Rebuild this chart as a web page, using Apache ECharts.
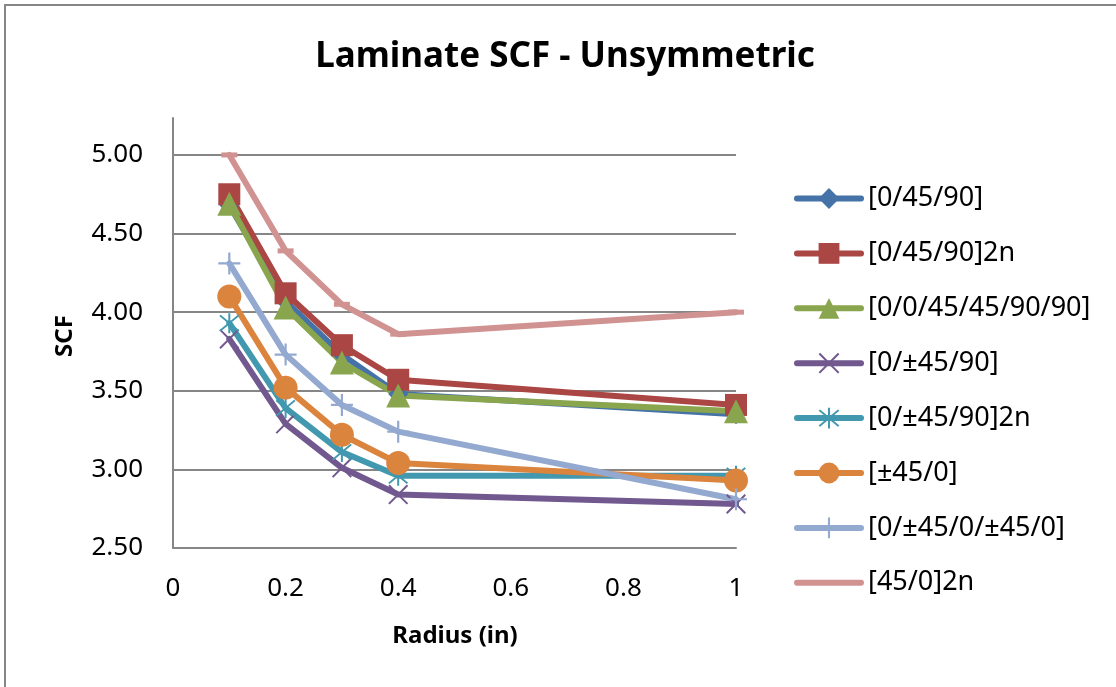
<!DOCTYPE html>
<html>
<head>
<meta charset="utf-8">
<script src="https://cdn.jsdelivr.net/npm/echarts@6/dist/echarts.min.js"></script>
<style>
  html, body { margin: 0; padding: 0; background: #fff; }
  #chart { width: 1116px; height: 687px; }
</style>
</head>
<body>
<div id="chart"></div>
<script>
// ---- data ----
const radius = [0.1, 0.2, 0.3, 0.4, 1.0];
const seriesNames = [
  '[0/45/90]',
  '[0/45/90]2n',
  '[0/0/45/45/90/90]',
  '[0/±45/90]',
  '[0/±45/90]2n',
  '[±45/0]',
  '[0/±45/0/±45/0]',
  '[45/0]2n'
];
const s_0_45_90        = [4.68, 4.07, 3.73, 3.48, 3.35];
const s_0_45_90_2n     = [4.75, 4.12, 3.79, 3.57, 3.41];
const s_0_0_45_45_90_90= [4.69, 4.03, 3.68, 3.47, 3.37];
const s_0_pm45_90      = [3.83, 3.29, 3.01, 2.84, 2.78];
const s_0_pm45_90_2n   = [3.93, 3.39, 3.11, 2.96, 2.96];
const s_pm45_0         = [4.10, 3.52, 3.22, 3.04, 2.93];
const s_0_pm45_0_pm45_0= [4.31, 3.73, 3.41, 3.24, 2.81];
const s_45_0_2n        = [5.00, 4.39, 4.05, 3.86, 4.00];
const yTickMin = 2.5, yTickMax = 5.0, yTickStep = 0.5;
const xTickMin = 0, xTickMax = 1, xTickStep = 0.2;

// ---- styles ----
const colors = ['#4572A7', '#AA4643', '#89A54E', '#71588F', '#4198AF', '#DB843D', '#93A9CF', '#D19392'];
const X_PATH = 'path://M0,0.7 L0.7,0 L10,9.3 L9.3,10 Z M9.3,0 L10,0.7 L0.7,10 L0,9.3 Z';
const AST_PATH = 'path://M0,0.7 L0.7,0 L10,9.3 L9.3,10 Z M9.3,0 L10,0.7 L0.7,10 L0,9.3 Z M4.5,-1 L5.5,-1 L5.5,11 L4.5,11 Z';
const PLUS_PATH = 'path://M4.5,0 L5.5,0 L5.5,10 L4.5,10 Z M0,4.5 L10,4.5 L10,5.5 L0,5.5 Z';
const DASH_PATH = 'path://M0,0 L10,0 L10,3 L0,3 Z';
const symbols = ['diamond', 'rect', 'triangle', X_PATH, AST_PATH, 'circle', PLUS_PATH, DASH_PATH];
const symbolSizes = [20, 22, 24, 20, 20, 24, 22, [16, 5]];
const allData = [s_0_45_90, s_0_45_90_2n, s_0_0_45_45_90_90, s_0_pm45_90, s_0_pm45_90_2n, s_pm45_0, s_0_pm45_0_pm45_0, s_45_0_2n];

const FONT = '"Noto Sans", "DejaVu Sans", sans-serif';
const GRID_COLOR = '#868686';

const series = allData.map((vals, i) => ({
  name: seriesNames[i],
  type: 'line',
  data: radius.map((x, j) => [x, vals[j]]),
  symbol: symbols[i],
  symbolSize: symbolSizes[i],
  showAllSymbol: true,
  lineStyle: { color: colors[i], width: 6, join: 'round', cap: 'round' },
  itemStyle: { color: colors[i], borderWidth: 0 },
  emphasis: { disabled: true },
  animation: false
}));

const legendData = seriesNames.map((n, i) => {
  const item = { name: n, lineStyle: { width: 6, cap: 'round', color: colors[i] } };
  if (i === seriesNames.length - 1) item.itemStyle = { opacity: 0 };
  return item;
});

const chart = echarts.init(document.getElementById('chart'), null, { renderer: 'canvas' });
chart.setOption({
  animation: false,
  backgroundColor: '#ffffff',
  grid: { left: 173, right: 380, top: 118, bottom: 139, containLabel: false },
  xAxis: {
    type: 'value',
    min: xTickMin, max: xTickMax, interval: xTickStep,
    axisLine: { show: true, lineStyle: { color: GRID_COLOR, width: 2 } },
    axisTick: { show: false },
    splitLine: { show: false },
    axisLabel: {
      color: '#000', fontSize: 26, fontFamily: FONT, margin: 28,
      formatter: v => String(+v.toFixed(1))
    }
  },
  yAxis: {
    type: 'value',
    min: yTickMin, max: 5.235, interval: yTickStep,
    axisLine: { show: true, lineStyle: { color: GRID_COLOR, width: 2 } },
    axisTick: { show: false },
    splitLine: { show: true, showMinLine: false, showMaxLine: false, lineStyle: { color: GRID_COLOR, width: 2 } },
    axisLabel: {
      color: '#000', fontSize: 26, fontFamily: FONT, margin: 30,
      showMaxLabel: false,
      formatter: v => (v <= yTickMax + 1e-9 ? v.toFixed(2) : '')
    }
  },
  legend: {
    orient: 'vertical',
    left: 789, top: 180,
    itemWidth: 64, itemHeight: 26, itemGap: 27.9,
    selectedMode: false,
    lineStyle: { width: 6, cap: 'round' },
    textStyle: { color: '#000', fontSize: 27, fontFamily: FONT, lineHeight: 26, padding: [0, 0, 0, 2] },
    data: legendData
  },
  graphic: [
    { type: 'rect', silent: true, z: -1,
      shape: { x: 5, y: 5, width: 1300, height: 900 },
      style: { fill: 'none', stroke: GRID_COLOR, lineWidth: 2 } },
    { type: 'text', silent: true,
      style: { text: 'Laminate SCF - Unsymmetric', x: 565, y: 57, align: 'center', verticalAlign: 'middle',
               font: 'bold 35px "Noto Sans", sans-serif', fill: '#000' } },
    { type: 'text', silent: true,
      style: { text: 'Radius (in)', x: 455, y: 636, align: 'center', verticalAlign: 'middle',
               font: 'bold 24px "Noto Sans", sans-serif', fill: '#000' } },
    { type: 'text', silent: true, x: 65, y: 336, rotation: Math.PI / 2,
      style: { text: 'SCF', x: 0, y: 0, align: 'center', verticalAlign: 'middle',
               font: 'bold 24px "Noto Sans", sans-serif', fill: '#000' } }
  ],
  series: series
});
</script>
</body>
</html>
